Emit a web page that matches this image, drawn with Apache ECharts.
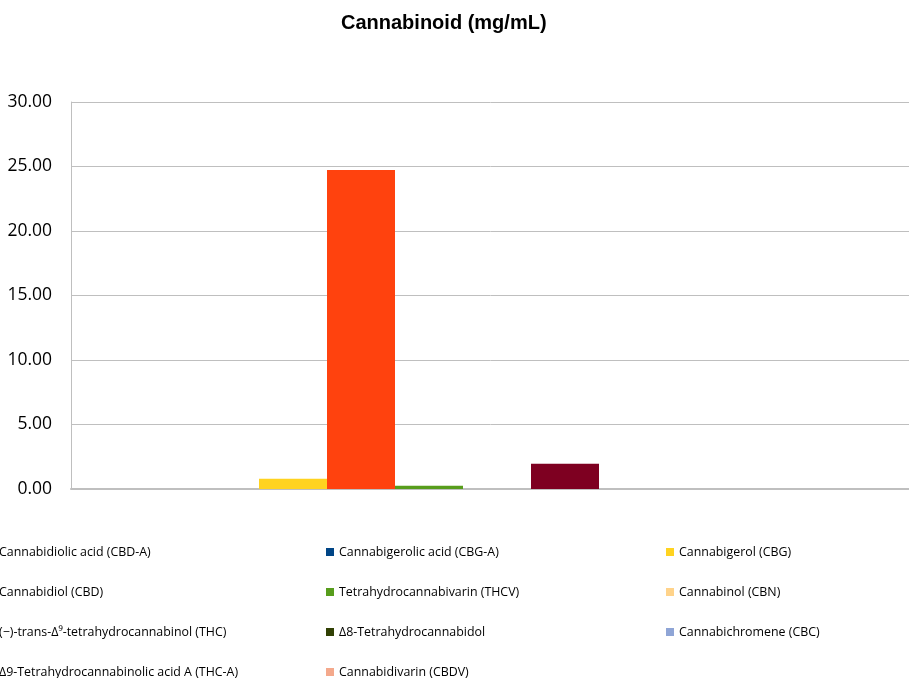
<!DOCTYPE html>
<html>
<head>
<meta charset="utf-8">
<script src="https://cdn.jsdelivr.net/npm/echarts@6/dist/echarts.min.js"></script>
<style>html,body{margin:0;padding:0;background:#fff;}#c{width:909px;height:678px;}</style>
</head>
<body>
<div id="c"></div>
<script>
var categories = [''];
var seriesNames = [
  'Cannabidiolic acid (CBD-A)',
  'Cannabigerolic acid (CBG-A)',
  'Cannabigerol (CBG)',
  'Cannabidiol (CBD)',
  'Tetrahydrocannabivarin (THCV)',
  'Cannabinol (CBN)',
  '(\u2212)-trans-\u0394\u2079-tetrahydrocannabinol (THC)',
  '\u03948-Tetrahydrocannabidol',
  'Cannabichromene (CBC)',
  '\u03949-Tetrahydrocannabinolic acid A (THC-A)',
  'Cannabidivarin (CBDV)'
];
var seriesValues = [0, 0, 0.8, 24.73, 0.26, 0, 1.96, 0, 0, 0, 0];
var seriesColors = ['#aecf00', '#004586', '#ffd320', '#ff420e', '#579d1c', '#ffd38a', '#7e0021', '#314004', '#8fa5d6', '#4b1f6f', '#f4a98c'];
var yTicks = { min: 0, max: 30, interval: 5 };

var legendCols = [
  [seriesNames[0], seriesNames[3], seriesNames[6], seriesNames[9]],
  [seriesNames[1], seriesNames[4], seriesNames[7], seriesNames[10]],
  [seriesNames[2], seriesNames[5], seriesNames[8]]
];
var legendLefts = [-14, 326, 666];

var chart = echarts.init(document.getElementById('c'));
var series = seriesNames.map(function (n, i) {
  return {
    name: n,
    type: 'bar',
    data: [seriesValues[i]],
    barWidth: 68,
    barGap: '0%',
    itemStyle: { color: seriesColors[i] }
  };
});
var legends = legendCols.map(function (col, i) {
  return {
    data: col,
    orient: 'vertical',
    left: legendLefts[i],
    top: 544,
    width: 330,
    height: 140,
    itemWidth: 8,
    itemHeight: 8,
    itemGap: 24,
    icon: 'rect',
    selectedMode: false,
    padding: 0,
    textStyle: { fontFamily: 'Open Sans', fontSize: 12.4, color: '#000', lineHeight: 16 }
  };
});
chart.setOption({
  animation: false,
  title: {
    text: 'Cannabinoid (mg/mL)',
    left: 336,
    top: 8,
    textStyle: { fontFamily: 'Liberation Sans', fontSize: 20, fontWeight: 'bold', color: '#000' }
  },
  legend: legends,
  grid: { left: 71, width: 852, top: 102, bottom: 189, containLabel: false, outerBoundsMode: 'none' },
  xAxis: {
    type: 'category',
    data: categories,
    axisLine: { show: true, lineStyle: { color: '#bfbfbf', width: 2 } },
    axisTick: { show: false },
    axisLabel: { show: false }
  },
  yAxis: {
    type: 'value',
    min: yTicks.min,
    max: yTicks.max,
    interval: yTicks.interval,
    axisLine: { show: true, lineStyle: { color: '#bfbfbf', width: 1 } },
    axisTick: { show: false },
    splitLine: { lineStyle: { color: '#bfbfbf', width: 1 } },
    axisLabel: {
      margin: 19,
      fontFamily: 'Open Sans',
      fontSize: 17.5,
      color: '#000',
      formatter: function (v) { return v.toFixed(2); }
    }
  },
  series: series
});
</script>
</body>
</html>
